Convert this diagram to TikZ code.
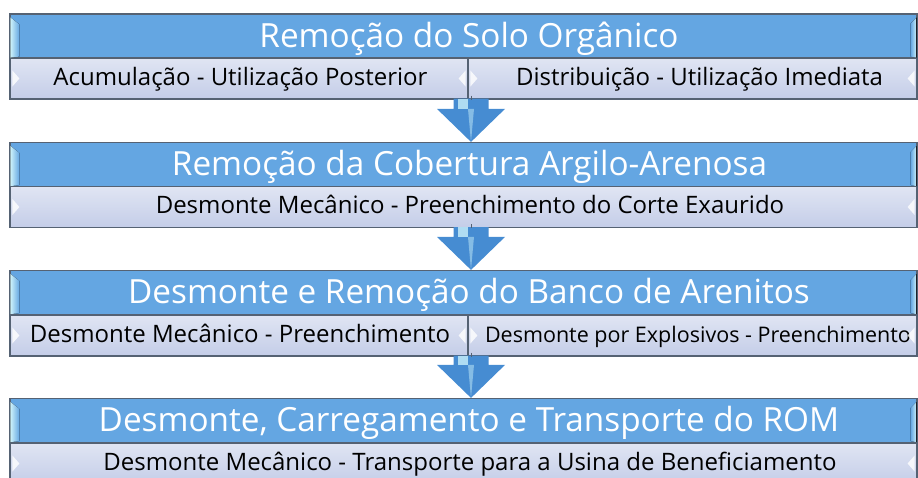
\documentclass[tikz,border=0pt]{standalone}
\usepackage{fontspec}
\setmainfont{Open Sans}
\usetikzlibrary{calc}
\definecolor{hdrblue}{RGB}{100,166,226}
\definecolor{hdredge}{RGB}{85,98,115}
\definecolor{subtop}{RGB}{224,229,243}
\definecolor{subbot}{RGB}{196,205,232}
\definecolor{arrdark}{RGB}{70,140,210}
\definecolor{arrlight}{RGB}{175,220,242}
\definecolor{hilite}{RGB}{205,242,250}
\newcommand{\shiftr}[1]{\hspace*{#1pt}}
\begin{document}
\begin{tikzpicture}[x=1pt,y=-1pt,
  hdr/.style={draw=hdredge, line width=1.2pt, fill=hdrblue, text=white,
    font=\fontsize{33.3}{33}\selectfont, inner sep=0pt, minimum height=44pt,
    text height=24pt, text depth=2pt},
  sub/.style={draw=hdredge, line width=1.2pt, top color=subtop, bottom color=subbot,
    text=black, font=\fontsize{24}{24}\selectfont, inner sep=0pt, minimum height=41pt,
    text height=17pt, text depth=4pt},
  blockarrow/.style={fill=arrdark, draw=none},
  shaftlight/.style={fill=arrlight, draw=none},
  tick/.style={fill=white, fill opacity=0.8, draw=none}]
\useasboundingbox (0,0) rectangle (918,477);

% ---------- boxes ----------
\node[hdr, minimum width=907pt] (h1) at (463.5,36) {\shiftr{11}Remoção do Solo Orgânico};
\node[sub, minimum width=458pt] (s1a) at (239,78.5) {\shiftr{3}Acumulação - Utilização Posterior};
\node[sub, minimum width=449pt] (s1b) at (692.5,78.5) {\shiftr{14}Distribuição - Utilização Imediata};

\node[hdr, minimum width=907pt] (h2) at (463.5,164.5) {\shiftr{12}Remoção da Cobertura Argilo-Arenosa};
\node[sub, minimum width=907pt] (s2) at (463.5,207) {\shiftr{13}Desmonte Mecânico - Preenchimento do Corte Exaurido};

\node[hdr, minimum width=907pt] (h3) at (463.5,292.5) {\shiftr{11}Desmonte e Remoção do Banco de Arenitos};
\node[sub, minimum width=458pt] (s3a) at (239,335.5) {\shiftr{2}Desmonte Mecânico - Preenchimento};
\node[sub, minimum width=449pt, font=\fontsize{21.5}{22}\selectfont] (s3b) at (692.5,335.5) {\shiftr{11}Desmonte por Explosivos - Preenchimento};

\node[hdr, minimum width=907pt] (h4) at (463.5,420.5) {\shiftr{11}Desmonte, Carregamento e Transporte do ROM};
\node[sub, minimum width=907pt] (s4) at (463.5,463.5) {\shiftr{13}Desmonte Mecânico - Transporte para a Usina de Beneficiamento};

% ---------- bevel highlights ----------
\foreach \h in {h1,h2,h3,h4}{
  \fill[left color=hilite, right color=hdrblue]
    ($(\h.north west)+(1,4)$) -- ($(\h.north west)+(10,11)$) -- ($(\h.south west)+(10,-2)$) -- ($(\h.south west)+(1,-1)$) -- cycle;
  \fill[right color=hilite, left color=hdrblue]
    ($(\h.north east)+(-1,4)$) -- ($(\h.north east)+(-7,10)$) -- ($(\h.south east)+(-7,-2)$) -- ($(\h.south east)+(-1,-1)$) -- cycle;
}
\foreach \s in {s1a,s2,s3a,s4,s1b,s3b}{
  \fill[tick] ($(\s.west)+(3,-8)$) -- ($(\s.west)+(10,0)$) -- ($(\s.west)+(3,8)$) -- cycle;
  \fill[tick] ($(\s.east)+(-3,-8)$) -- ($(\s.east)+(-10,0)$) -- ($(\s.east)+(-3,8)$) -- cycle;
}

% ---------- block arrows ----------
\coordinate (ax) at (471,0);
\coordinate (a1s) at (ax |- s1a.south);
\coordinate (a1e) at (ax |- h2.north);
\coordinate (a2s) at (ax |- s2.south);
\coordinate (a2e) at (ax |- h3.north);
\coordinate (a3s) at (ax |- s3a.south);
\coordinate (a3e) at (ax |- h4.north);
\foreach \a in {a1,a2,a3}{
  \path[blockarrow]
    ($(\a s)+(-17.5,-1)$) -- ($(\a s)+(17.5,-1)$) -- ($(\a e)+(17.5,-33)$) -- ($(\a e)+(34,-33)$)
    -- (\a e) -- ($(\a e)+(-34,-33)$) -- ($(\a e)+(-17.5,-33)$) -- cycle;
  \path[shaftlight] ($(\a s)+(-13,-1)$) rectangle ($(\a e)+(-3,-33)$);
  \path[fill=arrlight!60!arrdark] ($(\a e)+(-3,-33)$) -- ($(\a e)+(3,-33)$) -- (\a e) -- cycle;
  \draw[hdredge, line width=0.8pt] ($(\a s)+(0,-4)$) -- (\a s);
}
\end{tikzpicture}
\end{document}
